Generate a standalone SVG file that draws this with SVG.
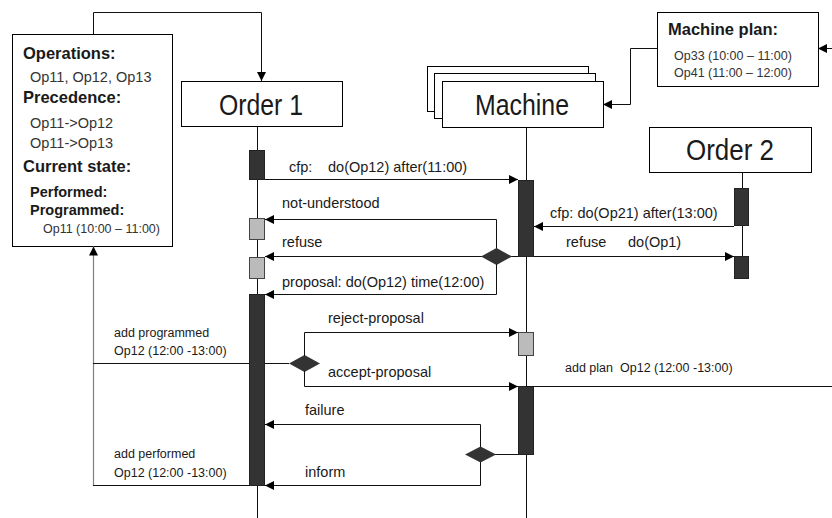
<svg xmlns="http://www.w3.org/2000/svg" width="832" height="518" viewBox="0 0 832 518">
<style>
text{font-family:"Liberation Sans",Arial,sans-serif;fill:#1a1a1a}
.b{font-weight:bold}
.t{font-size:30px;text-anchor:middle}
.m{font-size:14.5px}
.s{font-size:12.5px}
.g{fill:#333}
.box{fill:#fff;stroke:#000;stroke-width:1}
.ln{fill:none;stroke:#111;stroke-width:1}
.gl{fill:none;stroke:#808080;stroke-width:1.2}
.ar{marker-end:url(#ah)}
.bar{fill:#333;stroke:#222;stroke-width:1}
.lbar{fill:#bbb;stroke:#444;stroke-width:1}
.dia{fill:#333}
</style>
<defs>
<marker id="ah" viewBox="0 0 10 10" refX="10" refY="5" markerWidth="9" markerHeight="9" markerUnits="userSpaceOnUse" orient="auto">
<path d="M0,0 L10,5 L0,10 z" fill="#000"/>
</marker>
</defs>

<g id="order1-state">
<rect class="box" x="12.5" y="34.5" width="160" height="212"/>
<text class="b" x="23" y="59" font-size="16.5">Operations:</text>
<text class="g" x="30" y="82" font-size="14.5">Op11, Op12, Op13</text>
<text class="b" x="23" y="103" font-size="16.5">Precedence:</text>
<text class="g" x="30" y="128" font-size="14.5">Op11-&gt;Op12</text>
<text class="g" x="30" y="148" font-size="14.5">Op11-&gt;Op13</text>
<text class="b" x="23" y="172" font-size="16.5">Current state:</text>
<text class="b" x="30" y="197" font-size="14.5">Performed:</text>
<text class="b" x="30" y="215" font-size="14.5">Programmed:</text>
<text class="g" x="43" y="233" font-size="12.5">Op11 (10:00 – 11:00)</text>
</g>

<g id="machine-plan">
<rect class="box" x="657.5" y="12.5" width="161" height="74"/>
<text class="b" x="668" y="35" font-size="16.5">Machine plan:</text>
<text class="g s" x="674" y="60">Op33 (10:00 – 11:00)</text>
<text class="g s" x="674" y="77">Op41 (11:00 – 12:00)</text>
</g>

<g id="order1">
<line class="ln" x1="257.5" y1="126" x2="257.5" y2="518"/>
<rect class="box" x="181.5" y="81.5" width="161" height="45"/>
<text class="t" x="261" y="115" textLength="84" lengthAdjust="spacingAndGlyphs">Order 1</text>
<rect class="bar" x="249.5" y="150.5" width="15" height="29"/>
<rect class="lbar" x="249.5" y="218.5" width="15" height="21"/>
<rect class="lbar" x="249.5" y="257.5" width="15" height="21"/>
<rect class="bar" x="249.5" y="294.5" width="15" height="191"/>
</g>

<g id="machine">
<line class="ln" x1="526.5" y1="127" x2="526.5" y2="518"/>
<rect class="box" x="427.5" y="66.5" width="161" height="45"/>
<rect class="box" x="434.5" y="73.5" width="161" height="45"/>
<rect class="box" x="442.5" y="81.5" width="161" height="46"/>
<text class="t" x="522" y="115" textLength="94" lengthAdjust="spacingAndGlyphs">Machine</text>
<rect class="bar" x="518.5" y="180.5" width="15" height="76"/>
<rect class="lbar" x="518.5" y="332.5" width="15" height="23"/>
<rect class="bar" x="518.5" y="386.5" width="15" height="68"/>
</g>

<g id="order2">
<line class="ln" x1="742.5" y1="172" x2="742.5" y2="278"/>
<rect class="box" x="649.5" y="127.5" width="162" height="45"/>
<text class="t" x="730" y="160" textLength="88" lengthAdjust="spacingAndGlyphs">Order 2</text>
<rect class="bar" x="734.5" y="188.5" width="14" height="37"/>
<rect class="bar" x="734.5" y="256.5" width="14" height="22"/>
</g>

<g id="connectors">
<path class="ln ar" d="M93.5,34 V12.5 H261.5 V81"/>
<path class="ln ar" d="M657,48.5 H630.5 V104.5 H603"/>
<path class="ln ar" d="M832,48.5 H818"/>
<path class="ln ar" d="M265,179.5 H518"/>
<path class="ln ar" d="M496.5,256 V219.5 H265"/>
<path class="ln ar" d="M518,256.5 H265"/>
<path class="dia" d="M481,256.5 L496.5,248 L512,256.5 L496.5,265 z"/>
<path class="ln ar" d="M496.5,264 V294.5 H265"/>
<path class="ln ar" d="M734,226.5 H534"/>
<path class="ln ar" d="M534,256.5 H734"/>
<path class="gl ar" d="M93.5,486 V246.5"/>
<path class="ln" d="M93,363.5 H249"/>
<path class="ln" d="M93,485.5 H249"/>
<path class="ln" d="M265,363.5 H289"/>
<path class="dia" d="M289,363.5 L304.5,355 L320,363.5 L304.5,372 z"/>
<path class="ln ar" d="M304.5,356 V332.5 H518"/>
<path class="ln ar" d="M304.5,371 V386.5 H518"/>
<path class="ln" d="M526,386.5 H832"/>
<path class="ln" d="M495,454.5 H518"/>
<path class="dia" d="M465,454.5 L480.5,446.5 L496,454.5 L480.5,462.5 z"/>
<path class="ln ar" d="M480.5,447 V424.5 H265"/>
<path class="ln ar" d="M480.5,462 V485.5 H265"/>
</g>

<g id="labels">
<text class="m" x="289" y="172">cfp:</text>
<text class="m" x="328" y="172">do(Op12) after(11:00)</text>
<text class="m" x="282" y="208">not-understood</text>
<text class="m" x="282" y="247">refuse</text>
<text class="m" x="282" y="287">proposal: do(Op12) time(12:00)</text>
<text class="m" x="550" y="218">cfp: do(Op21) after(13:00)</text>
<text class="m" x="566" y="247">refuse</text>
<text class="m" x="628" y="247">do(Op1)</text>
<text class="m" x="328" y="323">reject-proposal</text>
<text class="m" x="328" y="377">accept-proposal</text>
<text class="m" x="305" y="415">failure</text>
<text class="m" x="305" y="477">inform</text>
<text class="s" x="114" y="337">add programmed</text>
<text class="s" x="114" y="355">Op12 (12:00 -13:00)</text>
<text class="s" x="114" y="458">add performed</text>
<text class="s" x="114" y="477">Op12 (12:00 -13:00)</text>
<text class="s" x="565" y="372">add plan</text>
<text class="s" x="620" y="372">Op12 (12:00 -13:00)</text>
</g>
</svg>
